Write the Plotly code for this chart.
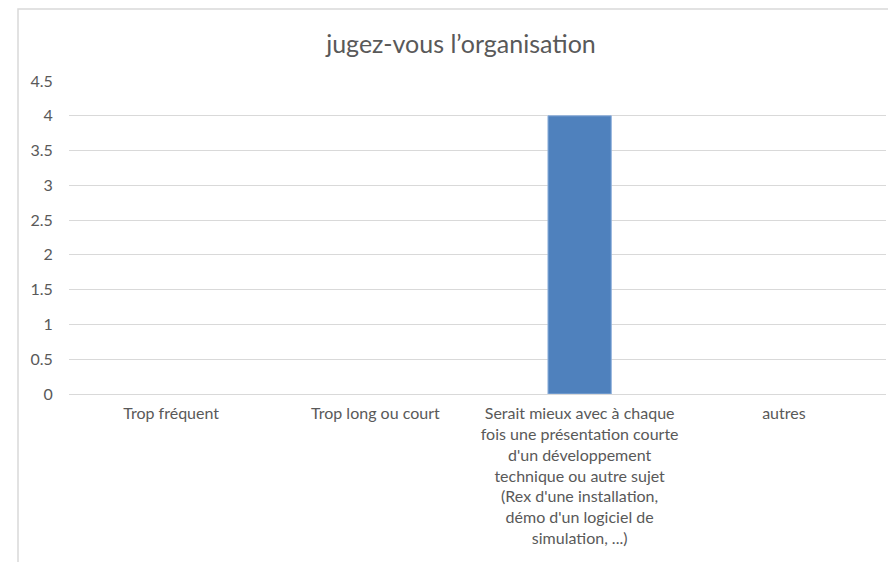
import plotly.graph_objects as go

categories = [
    "Trop fréquent",
    "Trop long ou court",
    "Serait mieux avec à chaque<br>fois une présentation courte<br>d'un développement<br>technique ou autre sujet<br>(Rex d'une installation,<br>démo d'un logiciel de<br>simulation, ...)",
    "autres",
]
values = [0, 0, 4, 0]
y_ticks = [0, 0.5, 1, 1.5, 2, 2.5, 3, 3.5, 4, 4.5]
y_labels = ["0", "0.5", "1", "1.5", "2", "2.5", "3", "3.5", "4", "4.5"]
title_text = "jugez-vous l’organisation"

FONT = "Lato, Open Sans, sans-serif"
GREY = "#595959"

fig = go.Figure(
    go.Bar(
        x=categories,
        y=values,
        marker=dict(
            color="#4F81BD",
            line=dict(color="#8EB0DC", width=[0 if v == 0 else 1 for v in values]),
        ),
        width=0.31,
    )
)

fig.update_layout(
    width=888,
    height=562,
    paper_bgcolor="white",
    plot_bgcolor="white",
    margin=dict(l=69, r=2, t=81, b=168),
    showlegend=False,
    title=dict(
        text=title_text,
        x=461 / 888,
        xanchor="center",
        y=1 - 44 / 562,
        yanchor="middle",
        font=dict(family=FONT, size=25, color=GREY),
    ),
    font=dict(family=FONT, size=16, color=GREY),
)

fig.update_xaxes(
    showline=True,
    linecolor="#D9D9D9",
    linewidth=1,
    showgrid=False,
    ticks="outside",
    ticklen=5,
    tickcolor="rgba(0,0,0,0)",
    tickfont=dict(family=FONT, size=16, color=GREY),
)
fig.update_yaxes(
    range=[0, 4.5],
    tickvals=y_ticks,
    ticktext=y_labels,
    showgrid=True,
    gridcolor="#D9D9D9",
    gridwidth=1,
    zeroline=False,
    showline=False,
    ticks="outside",
    ticklen=12,
    tickcolor="rgba(0,0,0,0)",
    tickfont=dict(family=FONT, size=16, color=GREY),
)

# outer chart frame (Excel style)
fig.add_shape(
    type="rect",
    xref="paper", yref="paper",
    x0=-51 / 817, x1=1.05, y0=-0.6, y1=1 + 72 / 313,
    line=dict(color="#D9D9D9", width=1.5),
    fillcolor="rgba(0,0,0,0)",
    layer="below",
)

fig.write_html(
    "out.html",
    config={"displayModeBar": False},
    post_script="document.body.style.margin='0';",
)
